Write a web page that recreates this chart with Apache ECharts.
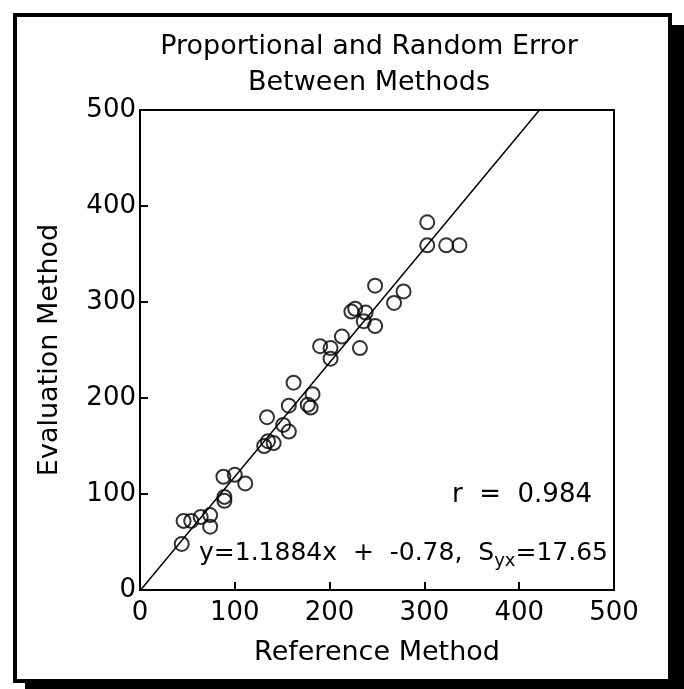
<!DOCTYPE html>
<html>
<head>
<meta charset="utf-8">
<script src="https://cdn.jsdelivr.net/npm/echarts@6/dist/echarts.min.js"></script>
<style>
    html, body { margin: 0; padding: 0; background: #fff; }
    body { width: 684px; height: 689px; position: relative; overflow: hidden; }
    /* 带阴影的外框 */
    #frame {
        position: absolute; left: 13px; top: 13px;
        width: 651px; height: 662px;
        border: 4px solid #000; background: #fff;
        box-shadow: 12px 12px 0 #000;
    }
    #chart { position: absolute; left: 0; top: 0; width: 684px; height: 689px; }
</style>
</head>
<body>
<div id="frame"></div>
<div id="chart"></div>
<script>
// 参考方法（x）
const refValues = [44, 46, 54, 64, 74, 74, 89, 89, 88, 100, 111, 131, 135, 141, 134, 151, 157, 157, 162,
    177, 180, 182, 190, 201, 201, 213, 223, 227, 232, 236, 238, 248, 248, 268, 278, 303, 303, 323, 337];
// 评价方法（y）
const evalValues = [48, 72, 72, 76, 78, 66, 97, 93, 118, 120, 111, 150, 155, 153, 180, 172, 165, 192, 216,
    193, 190, 204, 254, 252, 241, 264, 290, 293, 252, 280, 289, 275, 317, 299, 311, 383, 359, 359, 359];
const axisTicks = [0, 100, 200, 300, 400, 500];

// 回归结果
const slope = 1.1884;
const intercept = -0.78;
const rValue = '0.984';
const syx = '17.65';

const axisMax = axisTicks[axisTicks.length - 1];
const points = refValues.map((x, i) => [x, evalValues[i]]);
const fitLine = [[0, intercept], [(axisMax - intercept) / slope, axisMax]];

const fontFamily = 'DejaVu Sans';
const ink = '#000';
const chart = echarts.init(document.getElementById('chart'));

const axisCommon = {
    type: 'value',
    min: 0,
    max: axisMax,
    interval: 100,
    nameLocation: 'middle',
    nameTextStyle: { fontFamily: fontFamily, fontSize: 27, color: ink },
    axisLine: { show: true, lineStyle: { color: ink, width: 2 } },
    axisTick: { show: true, inside: true, length: 8, lineStyle: { color: ink, width: 2 } },
    axisLabel: { fontFamily: fontFamily, fontSize: 26, color: ink },
    splitLine: { show: false }
};

chart.setOption({
    backgroundColor: 'transparent',
    animation: false,
    title: {
        text: 'Proportional and Random Error\nBetween Methods',
        left: 364,
        top: 24,
        textAlign: 'center',
        textStyle: { fontFamily: fontFamily, fontSize: 27, fontWeight: 'normal', color: ink, lineHeight: 36 }
    },
    grid: {
        left: 140, top: 110, width: 474, height: 480,
        show: true, borderColor: ink, borderWidth: 2
    },
    xAxis: Object.assign({}, axisCommon, {
        name: 'Reference Method',
        nameGap: 49,
        axisLabel: Object.assign({}, axisCommon.axisLabel, { margin: 10 })
    }),
    yAxis: Object.assign({}, axisCommon, {
        name: 'Evaluation Method',
        nameGap: 77,
        axisLabel: Object.assign({}, axisCommon.axisLabel, { margin: 4 })
    }),
    graphic: [
        {
            type: 'text', left: 452, top: 482,
            style: { text: 'r  =  ' + rValue, fontFamily: fontFamily, fontSize: 26, fill: ink }
        },
        {
            type: 'text', left: 199, top: 541,
            style: {
                text: '{n|y=' + slope + 'x  +  ' + intercept + ',  S}{s|yx}{n|=' + syx + '}',
                fontFamily: fontFamily, fontSize: 25, fill: ink,
                rich: {
                    n: { fontFamily: fontFamily, fontSize: 25, fill: ink },
                    s: { fontFamily: fontFamily, fontSize: 18, fill: ink, padding: [15, 0, 0, 0] }
                }
            }
        }
    ],
    series: [
        {
            type: 'line',
            data: fitLine,
            symbol: 'none',
            lineStyle: { color: ink, width: 1.5 },
            clip: true,
            silent: true
        },
        {
            type: 'scatter',
            data: points,
            symbol: 'circle',
            symbolSize: 14,
            itemStyle: { color: 'transparent', borderColor: ink, borderWidth: 2 }
        }
    ]
});
</script>
</body>
</html>
